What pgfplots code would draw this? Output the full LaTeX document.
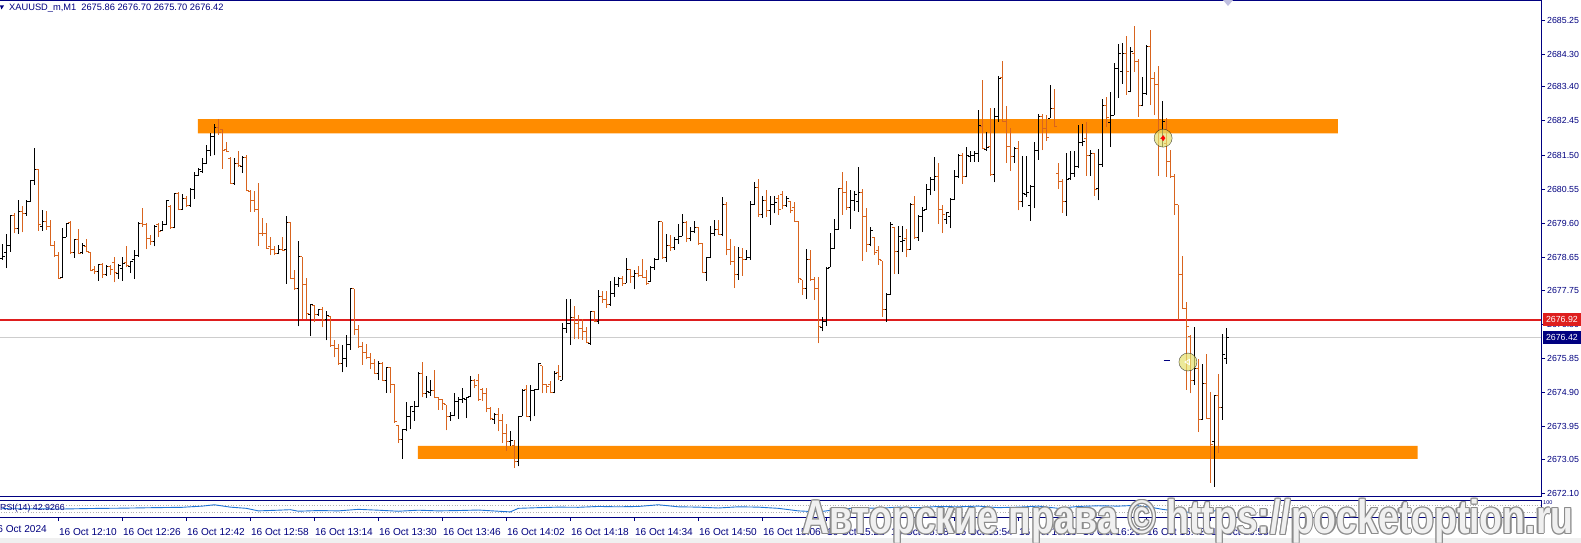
\documentclass[border=0pt]{standalone}
\usepackage{fontspec}
\setmainfont{Liberation Sans}
\usepackage{graphicx}
\usepackage{pgfplots}
\usepackage{pgfplotstable}
\pgfplotsset{compat=1.18}
\usetikzlibrary{plotmarks}

\definecolor{mtnavy}{RGB}{0,0,128}
\definecolor{barorange}{RGB}{216,100,30}
\definecolor{zoneorange}{RGB}{255,140,0}
\definecolor{askred}{RGB}{222,30,30}
\definecolor{bidgray}{RGB}{205,205,205}
\definecolor{rsiblue}{RGB}{30,115,215}
\definecolor{wmfill}{RGB}{240,240,240}
\definecolor{wmedge}{RGB}{140,140,140}

\pgfdeclareplotmark{otick}{\pgfpathmoveto{\pgfqpoint{-2.2pt}{0pt}}\pgfpathlineto{\pgfqpoint{0pt}{0pt}}\pgfusepathqstroke}
\pgfdeclareplotmark{ctick}{\pgfpathmoveto{\pgfqpoint{0pt}{0pt}}\pgfpathlineto{\pgfqpoint{2.2pt}{0pt}}\pgfusepathqstroke}

\newcommand\mtf{\fontsize{8.8}{10}\selectfont}
\newcommand\mtt{\fontsize{10.1}{11}\selectfont}

\pgfplotstableread{
x o h l c
0 2678.63 2679.02 2678.59 2678.68
1 2678.80 2679.31 2678.36 2679.00
2 2679.00 2679.83 2678.82 2679.83
4 2679.46 2680.24 2679.31 2679.93
6 2679.87 2680.24 2679.81 2680.20
7 2680.20 2680.81 2680.20 2680.79
8 2680.79 2681.70 2680.68 2681.11
10 2679.51 2679.98 2679.40 2679.65
15 2678.11 2679.48 2678.08 2679.22
16 2679.22 2679.62 2679.22 2679.61
18 2678.79 2679.18 2678.65 2679.16
20 2678.79 2679.07 2678.75 2679.00
24 2678.26 2678.48 2678.01 2678.45
26 2678.18 2678.45 2678.15 2678.40
29 2678.22 2678.47 2678.06 2678.43
30 2678.36 2678.68 2678.01 2678.50
32 2678.40 2678.57 2678.22 2678.54
33 2678.59 2678.87 2678.06 2678.70
34 2678.70 2679.63 2678.68 2679.61
38 2679.10 2679.56 2678.96 2679.51
40 2679.40 2679.67 2679.38 2679.56
41 2679.56 2680.25 2679.56 2680.24
43 2679.50 2680.44 2679.46 2680.42
45 2680.00 2680.42 2679.98 2680.30
47 2680.10 2680.58 2680.07 2680.55
48 2680.55 2681.03 2680.29 2680.94
49 2680.94 2681.13 2680.92 2681.09
50 2681.04 2681.41 2681.00 2681.27
51 2681.27 2681.78 2681.25 2681.62
52 2681.62 2682.11 2681.46 2682.01
53 2682.01 2682.37 2681.49 2682.27
58 2680.72 2681.41 2680.68 2681.27
60 2681.18 2681.46 2681.00 2681.43
69 2678.77 2679.01 2678.75 2678.87
71 2678.87 2679.80 2677.93 2679.62
74 2677.80 2679.12 2676.74 2678.68
77 2677.06 2677.37 2676.46 2677.34
79 2677.06 2677.22 2677.03 2677.20
81 2676.92 2677.17 2676.35 2677.03
85 2675.70 2676.22 2675.46 2675.86
86 2675.86 2676.50 2675.60 2676.25
87 2676.25 2677.80 2676.09 2677.78
94 2675.44 2675.79 2675.25 2675.72
96 2675.25 2675.62 2674.90 2675.60
100 2673.59 2673.87 2673.05 2673.87
101 2673.87 2674.65 2673.82 2674.25
102 2674.25 2674.51 2673.88 2674.51
103 2674.37 2674.68 2674.12 2674.51
104 2674.51 2675.46 2674.50 2675.44
106 2674.88 2675.37 2674.75 2674.93
107 2674.91 2675.25 2674.81 2674.96
112 2674.24 2674.37 2674.12 2674.26
113 2674.26 2674.90 2674.24 2674.65
114 2674.65 2674.79 2674.17 2674.72
115 2674.70 2675.04 2674.62 2674.75
116 2674.70 2674.79 2674.19 2674.77
117 2674.79 2675.35 2674.77 2675.25
123 2674.14 2674.33 2674.03 2674.28
127 2673.54 2673.82 2673.42 2673.57
129 2672.99 2674.24 2672.85 2674.24
130 2674.24 2675.00 2674.24 2674.96
132 2674.25 2675.12 2674.10 2674.96
133 2674.96 2675.00 2674.24 2675.00
134 2675.00 2675.72 2674.98 2675.70
138 2674.90 2675.49 2674.88 2675.44
140 2675.25 2676.83 2675.25 2676.69
141 2676.69 2677.50 2676.57 2676.83
142 2676.83 2677.50 2676.22 2677.00
147 2676.27 2677.17 2676.23 2677.15
149 2676.87 2677.74 2676.80 2677.57
152 2677.36 2678.00 2677.32 2677.64
153 2677.64 2678.12 2677.57 2677.89
154 2677.89 2678.12 2677.83 2678.08
156 2677.94 2678.65 2677.94 2678.33
158 2678.12 2678.31 2677.77 2678.22
162 2677.99 2678.42 2677.98 2678.38
163 2678.38 2678.63 2678.31 2678.59
164 2678.59 2679.68 2678.59 2679.65
166 2678.64 2679.30 2678.54 2679.00
168 2678.93 2679.22 2678.87 2679.16
169 2679.16 2679.59 2679.03 2679.25
170 2679.25 2679.86 2679.24 2679.62
172 2679.17 2679.50 2679.10 2679.37
173 2679.37 2679.68 2679.33 2679.50
176 2678.24 2678.68 2678.01 2678.66
177 2678.66 2679.54 2678.63 2679.33
178 2679.33 2679.70 2679.25 2679.42
180 2679.30 2680.33 2679.25 2680.12
184 2678.17 2678.94 2678.03 2678.64
186 2678.59 2678.87 2678.59 2678.66
187 2678.66 2680.23 2678.59 2680.12
188 2680.12 2680.74 2680.12 2680.61
190 2679.86 2680.35 2679.75 2680.25
192 2679.95 2680.35 2679.56 2680.12
193 2680.12 2680.35 2679.88 2680.18
196 2680.10 2680.35 2680.07 2680.30
201 2677.80 2678.88 2677.50 2678.59
205 2676.70 2677.01 2676.60 2676.88
206 2676.88 2678.38 2676.75 2678.36
207 2678.38 2679.33 2678.38 2678.91
208 2678.91 2679.72 2678.88 2679.42
209 2679.42 2680.58 2679.42 2680.56
212 2680.05 2680.53 2679.45 2680.25
213 2680.25 2680.50 2679.95 2680.41
214 2680.21 2681.16 2679.93 2680.45
217 2679.02 2679.51 2678.96 2679.39
221 2677.20 2677.66 2676.87 2677.62
222 2677.62 2679.65 2677.62 2679.58
224 2678.82 2679.53 2678.19 2679.24
225 2679.10 2679.53 2678.82 2679.12
227 2678.87 2680.18 2678.87 2680.14
229 2679.22 2679.84 2679.12 2679.79
230 2679.79 2680.07 2679.36 2679.96
231 2679.98 2680.70 2679.98 2680.53
232 2680.53 2680.90 2680.39 2680.83
233 2680.83 2681.44 2680.51 2680.90
236 2679.70 2679.93 2679.59 2679.90
237 2679.79 2680.30 2679.46 2680.27
238 2680.27 2681.09 2680.25 2680.90
239 2680.90 2681.53 2680.86 2681.50
241 2680.90 2681.72 2680.88 2681.50
242 2681.46 2681.62 2681.32 2681.50
243 2681.48 2681.62 2681.32 2681.55
244 2681.55 2682.74 2681.32 2682.31
246 2681.66 2682.15 2681.62 2681.72
248 2680.95 2682.80 2680.74 2682.57
249 2682.57 2683.70 2682.43 2683.63
253 2681.46 2681.72 2681.29 2681.69
255 2680.21 2681.46 2680.05 2680.44
256 2680.40 2681.46 2680.33 2680.46
257 2680.10 2680.67 2679.68 2680.62
258 2680.62 2681.85 2680.02 2681.64
259 2681.64 2682.64 2681.37 2682.57
262 2682.52 2683.45 2682.52 2682.80
266 2680.21 2681.57 2679.82 2680.81
267 2680.85 2681.60 2680.81 2680.99
268 2680.99 2681.62 2680.90 2681.18
269 2681.18 2682.34 2681.13 2681.85
270 2681.85 2682.37 2681.74 2681.88
272 2681.50 2681.64 2680.92 2681.55
274 2680.58 2681.66 2680.24 2681.23
275 2681.23 2683.05 2681.18 2682.89
277 2682.40 2683.26 2681.72 2682.60
278 2682.60 2684.05 2682.60 2683.91
279 2683.91 2684.59 2683.08 2684.33
280 2683.82 2684.61 2683.48 2684.33
282 2683.26 2684.51 2683.24 2684.37
285 2682.87 2683.68 2682.85 2683.20
286 2683.20 2684.56 2683.17 2684.51
290 2681.97 2683.01 2681.73 2682.43
298 2675.25 2676.72 2675.12 2675.58
300 2674.14 2675.70 2674.14 2675.14
303 2673.54 2674.81 2672.29 2674.81
305 2674.49 2676.53 2674.14 2675.95
306 2675.86 2676.70 2675.70 2676.42
}\upbars

\pgfplotstableread{
x o h l c
3 2679.83 2679.90 2679.33 2679.46
5 2679.93 2680.09 2679.35 2679.88
9 2681.11 2681.11 2679.40 2679.56
11 2679.65 2679.95 2679.42 2679.51
12 2679.51 2679.70 2678.98 2679.00
13 2679.00 2679.12 2678.68 2678.71
14 2678.71 2678.80 2678.08 2678.08
17 2679.62 2679.67 2678.75 2678.79
19 2679.16 2679.45 2678.75 2678.77
21 2678.96 2679.18 2678.80 2678.82
22 2678.80 2678.80 2678.27 2678.29
23 2678.33 2678.42 2678.19 2678.26
25 2678.45 2678.50 2678.08 2678.18
27 2678.40 2678.44 2678.17 2678.33
28 2678.51 2678.67 2677.96 2678.25
31 2678.51 2678.96 2678.38 2678.42
35 2679.61 2680.02 2679.51 2679.56
36 2679.56 2679.61 2678.88 2679.19
37 2679.19 2679.27 2679.01 2679.10
39 2679.56 2679.60 2679.22 2679.37
42 2680.07 2680.12 2679.45 2679.50
44 2680.42 2680.47 2679.96 2680.00
46 2680.30 2680.37 2680.05 2680.10
54 2682.27 2682.49 2682.06 2682.12
55 2682.20 2682.23 2681.12 2681.64
56 2681.66 2681.86 2681.58 2681.60
57 2681.41 2681.44 2680.70 2680.72
59 2681.27 2681.62 2681.18 2681.20
61 2681.43 2681.50 2680.49 2680.51
62 2680.50 2680.53 2679.93 2680.24
63 2680.24 2680.49 2679.93 2679.98
64 2679.98 2680.73 2678.98 2679.33
65 2679.33 2679.75 2679.26 2679.31
66 2679.31 2679.62 2678.89 2678.91
67 2678.96 2679.23 2678.71 2678.88
68 2678.88 2678.98 2678.72 2678.77
70 2678.88 2679.23 2678.85 2678.85
72 2679.62 2679.63 2678.05 2678.08
73 2678.08 2678.31 2677.76 2677.80
75 2678.67 2678.67 2676.95 2677.89
76 2677.89 2678.08 2676.94 2677.09
78 2677.31 2677.34 2676.87 2677.06
80 2677.20 2677.29 2676.71 2676.92
82 2677.01 2677.03 2676.18 2676.21
83 2676.21 2676.35 2675.88 2676.12
84 2676.12 2676.25 2675.67 2675.70
88 2677.78 2677.78 2676.50 2676.64
89 2676.64 2676.77 2676.15 2676.18
90 2676.18 2676.30 2675.67 2676.01
91 2676.01 2676.25 2675.83 2675.88
92 2675.88 2676.01 2675.55 2675.70
93 2675.70 2675.83 2675.42 2675.44
95 2675.72 2675.74 2675.23 2675.25
97 2675.60 2675.62 2674.90 2675.13
98 2675.13 2675.15 2674.05 2674.10
99 2673.99 2673.99 2673.50 2673.59
105 2675.44 2675.74 2674.77 2674.88
108 2674.96 2675.53 2674.75 2674.77
109 2674.77 2674.79 2674.42 2674.70
110 2674.70 2674.73 2674.42 2674.59
111 2674.56 2674.56 2673.85 2674.24
118 2675.25 2675.27 2675.02 2675.11
119 2675.25 2675.41 2674.68 2674.72
120 2674.98 2675.02 2674.68 2674.88
121 2674.88 2675.04 2674.35 2674.47
122 2674.47 2674.51 2674.14 2674.19
124 2674.28 2674.47 2673.82 2674.12
125 2674.12 2674.30 2673.50 2673.77
126 2673.77 2674.03 2673.29 2673.54
128 2673.42 2673.59 2672.80 2672.99
131 2674.98 2675.10 2674.22 2674.25
135 2675.64 2675.64 2674.88 2675.12
136 2675.12 2675.14 2674.90 2675.07
137 2675.12 2675.21 2674.88 2674.90
139 2675.46 2675.67 2675.25 2675.35
143 2677.00 2677.31 2676.38 2676.83
144 2676.83 2677.06 2676.38 2676.69
145 2676.69 2676.94 2676.37 2676.60
146 2676.60 2676.71 2676.27 2676.29
148 2677.15 2677.17 2676.85 2676.87
150 2677.57 2677.71 2677.40 2677.48
151 2677.48 2677.71 2677.26 2677.36
155 2678.08 2678.14 2677.87 2677.94
157 2678.33 2678.34 2677.94 2678.12
159 2678.22 2678.43 2678.11 2678.16
160 2678.16 2678.62 2678.08 2678.10
161 2678.10 2678.31 2677.89 2677.94
165 2679.65 2679.65 2678.62 2678.64
167 2679.00 2679.28 2678.84 2678.93
171 2679.62 2679.67 2679.08 2679.17
174 2679.50 2679.51 2679.00 2679.05
175 2679.05 2679.05 2678.22 2678.24
179 2679.42 2679.70 2679.28 2679.30
181 2680.12 2680.19 2678.71 2678.88
182 2678.88 2679.17 2678.45 2678.54
183 2678.54 2678.96 2677.80 2678.17
185 2678.64 2678.93 2678.14 2678.59
189 2680.61 2680.83 2679.79 2679.86
191 2680.25 2680.53 2679.79 2679.95
194 2680.30 2680.39 2679.84 2679.98
195 2680.40 2680.49 2679.99 2680.10
197 2680.20 2680.21 2679.88 2679.95
198 2680.05 2680.19 2679.65 2679.66
199 2679.66 2679.68 2677.94 2678.06
200 2678.03 2678.03 2677.62 2677.80
202 2678.59 2678.87 2678.01 2678.05
203 2678.05 2678.12 2677.48 2677.80
204 2677.80 2678.12 2676.27 2676.74
210 2680.56 2681.02 2679.84 2680.46
211 2680.46 2680.78 2679.98 2680.05
215 2680.45 2680.56 2678.56 2679.79
216 2679.79 2680.04 2678.80 2679.02
218 2679.20 2679.22 2678.73 2678.80
219 2678.85 2678.96 2678.45 2678.60
220 2678.56 2678.56 2677.01 2677.20
223 2679.50 2679.51 2678.19 2678.82
226 2679.19 2679.45 2678.66 2678.88
228 2680.12 2680.35 2679.17 2679.22
234 2680.90 2681.27 2679.59 2679.98
235 2679.98 2680.11 2679.33 2679.84
240 2681.50 2681.55 2680.70 2680.90
245 2682.29 2683.59 2681.66 2681.69
247 2681.74 2682.80 2680.93 2680.95
250 2683.66 2684.12 2682.43 2682.43
251 2682.43 2682.87 2681.29 2681.74
252 2681.74 2682.26 2681.07 2681.46
254 2681.69 2681.90 2679.96 2680.21
260 2682.57 2682.64 2681.64 2682.23
261 2682.23 2682.61 2681.90 2682.00
263 2682.80 2683.34 2682.27 2682.29
264 2681.00 2681.27 2680.55 2680.76
265 2680.76 2680.83 2679.90 2680.21
271 2681.97 2682.41 2680.93 2681.50
273 2681.55 2681.57 2680.37 2680.53
276 2682.89 2683.11 2682.27 2682.55
281 2684.33 2684.81 2683.17 2683.82
283 2684.33 2685.09 2683.82 2684.10
284 2684.10 2684.16 2682.57 2682.87
287 2684.51 2684.98 2682.89 2683.63
288 2683.63 2683.80 2682.62 2683.45
289 2683.45 2683.98 2680.92 2682.48
291 2681.83 2682.52 2680.90 2681.32
292 2681.32 2681.64 2680.86 2680.90
293 2680.90 2680.97 2679.84 2680.12
294 2680.12 2680.12 2676.92 2678.17
295 2678.17 2678.70 2677.25 2677.25
296 2677.25 2677.43 2674.98 2676.75
297 2676.45 2676.50 2674.88 2675.25
299 2675.58 2675.83 2673.80 2674.14
301 2675.14 2675.98 2674.19 2674.19
302 2674.19 2674.93 2672.40 2673.45
304 2674.81 2675.42 2673.22 2674.49
}\downbars

\pgfplotstableread{
x v
0 49
8 48
15 47
22 50
30 52
38 55
45 57
47 60
50 64
53 72
57 58
61 51
64 36
69 40
72 43
74 34
79 38
84 36
89 45
94 40
99 34
104 40
109 36
114 38
119 41
124 34
127 30
129 51
134 55
139 58
144 57
149 62
154 60
159 62
164 72
169 60
174 58
179 53
184 60
189 58
194 51
199 36
204 30
209 45
214 55
219 51
224 58
229 55
234 62
239 60
244 64
249 55
254 58
259 64
264 51
269 62
274 66
279 64
283 68
287 58
290 45
293 36
296 28
298 30
301 24
303 36
306 42.93
}\rsidata

\newcommand\wmtext{\resizebox*{771pt}{44pt}{\bfseries Авторские права © https://pocketoption.ru}}

\begin{document}
\begin{tikzpicture}[x=1pt,y=1pt]
\fill[white] (0,0) rectangle (1581,543);
\fill[black!6] (0,0) rectangle (1581,5);

\begin{axis}[
  name=main, at={(0pt,46pt)}, anchor=south west,
  scale only axis, width=1541pt, height=496pt,
  xmin=-0.5825, xmax=384.67, ymin=2672.00, ymax=2685.78,
  axis line style={draw=none},
  xtick=\empty,
  ytick={2685.25,2684.30,2683.40,2682.45,2681.50,2680.55,2679.60,2678.65,2677.75,2676.80,2675.85,2674.90,2673.95,2673.05,2672.10},
  yticklabels={2685.25,2684.30,2683.40,2682.45,2681.50,2680.55,2679.60,2678.65,2677.75,2676.80,2675.85,2674.90,2673.95,2673.05,2672.10},
  ytick pos=right, yticklabel pos=right,
  tick align=outside, major tick length=4pt,
  tick style={mtnavy, line width=0.8pt},
  yticklabel style={font=\mtf, text=mtnavy, anchor=west, inner sep=0pt, xshift=2pt},
]
% support / resistance zones
\addplot[fill=zoneorange, draw=none, forget plot] coordinates {(48.9,2682.10) (333.9,2682.10) (333.9,2682.50) (48.9,2682.50) (48.9,2682.10)};
\addplot[fill=zoneorange, draw=none, forget plot] coordinates {(103.9,2673.06) (353.8,2673.06) (353.8,2673.42) (103.9,2673.42) (103.9,2673.06)};
% bid / ask lines
\addplot[bidgray, line width=1pt, forget plot] coordinates {(-1,2676.42) (390,2676.42)};
\addplot[askred, line width=1.2pt, forget plot] coordinates {(-1,2676.92) (390,2676.92)};
% up bars
\addplot[forget plot, mark=none, draw=none, error bars/.cd, y dir=plus, y explicit, error mark=none, error bar style={draw=black, line width=1pt}] table[x=x, y=l, y error expr=\thisrow{h}-\thisrow{l}] {\upbars};
\addplot[forget plot, only marks, mark=otick, mark options={draw=black, line width=1pt}] table[x=x, y=o] {\upbars};
\addplot[forget plot, only marks, mark=ctick, mark options={draw=black, line width=1pt}] table[x=x, y=c] {\upbars};
% down bars
\addplot[forget plot, mark=none, draw=none, error bars/.cd, y dir=plus, y explicit, error mark=none, error bar style={draw=barorange, line width=1pt}] table[x=x, y=l, y error expr=\thisrow{h}-\thisrow{l}] {\downbars};
\addplot[forget plot, only marks, mark=otick, mark options={draw=barorange, line width=1pt}] table[x=x, y=o] {\downbars};
\addplot[forget plot, only marks, mark=ctick, mark options={draw=barorange, line width=1pt}] table[x=x, y=c] {\downbars};
% trade markers
\addplot[forget plot, only marks, mark=*, mark size=9pt, mark options={fill={rgb,255:red,228;green,225;blue,110}, draw=none, opacity=0.7}] coordinates {(290.2,2681.97) (296.4,2675.75)};
\addplot[forget plot, only marks, mark=diamond*, mark size=2.6pt, mark options={fill=red, draw=red}] coordinates {(290.2,2681.97)};
\addplot[forget plot, only marks, mark=triangle, mark size=3pt, mark options={draw=white, line width=0.8pt, rotate=90}] coordinates {(296.4,2675.75)};
\addplot[forget plot, mtnavy, line width=1pt] coordinates {(290.3,2675.78) (291.9,2675.78)};
\coordinate (redR) at (axis cs:384.67,2676.92);
\coordinate (grayR) at (axis cs:384.67,2676.42);
\end{axis}

\draw[mtnavy, line width=1pt] (0,542) -- (1541,542) -- (1541,46) -- (0,46);

\node[fill=askred, text=white, font=\mtf, anchor=west, inner sep=0pt, minimum height=13pt, minimum width=38.5pt] at ([xshift=1.5pt]redR) {2676.92};
\node[fill=mtnavy, text=white, font=\mtf, anchor=west, inner sep=0pt, minimum height=13pt, minimum width=38.5pt] at ([xshift=1.5pt]grayR) {2676.42};

% title
\fill[mtnavy] (0,537.5) -- (4,537.5) -- (1.5,533.5) -- cycle;
\node[anchor=west, inner sep=0pt, font=\fontsize{9.3}{10}\selectfont, text=mtnavy] at (9,535) {XAUUSD\_m,M1\hspace{5pt}2675.86 2676.70 2675.70 2676.42};
\fill[mtnavy!25] (1223,543) -- (1233,543) -- (1228,537) -- cycle;

\begin{axis}[
  name=rsi, at={(0pt,26pt)}, anchor=south west,
  scale only axis, width=1541pt, height=17pt,
  xmin=-0.5825, xmax=384.67, ymin=0, ymax=100,
  axis line style={mtnavy, line width=1pt},
  ytick=\empty,
  xtick={14,30,...,302},
  xticklabels={16 Oct 12:10,16 Oct 12:26,16 Oct 12:42,16 Oct 12:58,16 Oct 13:14,16 Oct 13:30,16 Oct 13:46,16 Oct 14:02,16 Oct 14:18,16 Oct 14:34,16 Oct 14:50,16 Oct 15:06,16 Oct 15:22,16 Oct 15:38,16 Oct 15:54,16 Oct 16:10,16 Oct 16:26,16 Oct 16:42,16 Oct 16:58},
  xtick pos=bottom, tick align=outside, major tick length=4pt,
  tick style={mtnavy, line width=0.8pt},
  xticklabel style={font=\mtt, text=mtnavy, anchor=north west, inner sep=0pt, xshift=0.5pt, yshift=-7.5pt},
]
\addplot[forget plot, gray!60, dotted, line width=0.7pt] coordinates {(-1,70) (390,70)};
\addplot[forget plot, gray!60, dotted, line width=0.7pt] coordinates {(-1,30) (390,30)};
\addplot[forget plot, rsiblue, line width=0.9pt] table[x=x, y=v] {\rsidata};
\node[anchor=west, inner sep=0pt, font=\mtf, text=mtnavy] at (rel axis cs:0,0.5) {RSI(14) 42.9266};
\end{axis}
\node[anchor=north west, inner sep=0pt, font=\fontsize{5.5}{6}\selectfont, text=mtnavy] at (1543,43) {100};
\node[anchor=south west, inner sep=0pt, font=\fontsize{5.5}{6}\selectfont, text=mtnavy] at (1543,28) {0};
\node[anchor=north east, inner sep=0pt, font=\mtt, text=mtnavy] at (47,17.5) {16 Oct 2024};

% watermark
\foreach \dx/\dy in {-1.2/0,1.2/0,0/-1.2,0/1.2,-0.85/-0.85,0.85/0.85,-0.85/0.85,0.85/-0.85}{
  \node[anchor=north west, inner sep=0pt, text=wmedge, xshift=\dx pt, yshift=\dy pt] at (802,44) {\wmtext};
}
\node[anchor=north west, inner sep=0pt, text=wmfill] at (802,44) {\wmtext};

\pgfresetboundingbox
\useasboundingbox (0,0) rectangle (1581,543);
\end{tikzpicture}
\end{document}
